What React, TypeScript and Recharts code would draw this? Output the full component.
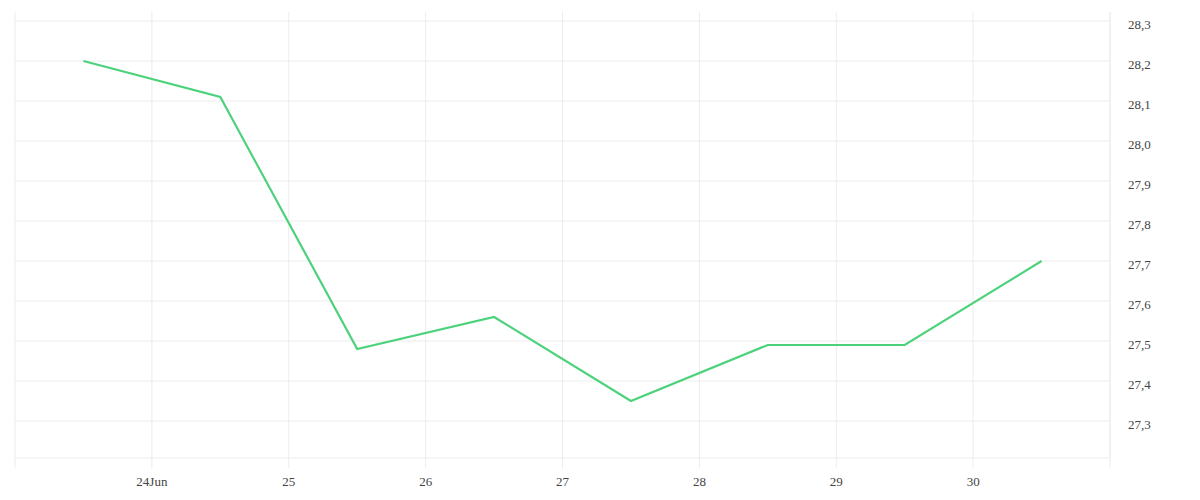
import { LineChart, Line, XAxis, YAxis, CartesianGrid, ReferenceLine } from 'recharts';

// points sit at midday of each day (23 Jun 12:00 ... 30 Jun 12:00)
const dayPositions = [23.5, 24.5, 25.5, 26.5, 27.5, 28.5, 29.5, 30.5];
const values = [28.2, 28.11, 27.48, 27.56, 27.35, 27.49, 27.49, 27.7];

const xTicks = [23, 24, 25, 26, 27, 28, 29, 30, 31];
const xTickLabels: Record<number, string> = {
  24: '24Jun',
  25: '25',
  26: '26',
  27: '27',
  28: '28',
  29: '29',
  30: '30',
};
const yTicks = [27.3, 27.4, 27.5, 27.6, 27.7, 27.8, 27.9, 28.0, 28.1, 28.2, 28.3];

const data = dayPositions.map((day, i) => ({ day, value: values[i] }));

const gridColor = '#ececec';
const textColor = '#444';

const App = () => {
  return (
    <LineChart
      width={1184}
      height={484}
      data={data}
      margin={{ top: 4, right: 0, left: 7, bottom: 0 }}
    >
      <CartesianGrid stroke={gridColor} horizontal={false} />
      {yTicks.map((t) => (
        <ReferenceLine key={t} y={t} stroke={gridColor} />
      ))}
      <XAxis
        dataKey="day"
        type="number"
        domain={[23, 31]}
        ticks={xTicks}
        height={34}
        tickSize={10}
        tickMargin={9}
        stroke={gridColor}
        tickFormatter={(v: number) => xTickLabels[v] ?? ''}
        tick={{ fill: textColor, fontSize: 13 }}
        interval={0}
      />
      <YAxis
        orientation="right"
        domain={[27.2075, 28.3225]}
        ticks={yTicks}
        width={82}
        tickLine={false}
        tickSize={0}
        tickMargin={18}
        stroke={gridColor}
        tickFormatter={(v: number) => v.toFixed(1).replace('.', ',')}
        tick={{ fill: textColor, fontSize: 13, textAnchor: 'start', dy: 3 }}
        interval={0}
        allowDataOverflow
      />
      <Line
        type="linear"
        dataKey="value"
        stroke="#4cd27b"
        strokeWidth={2.2}
        dot={false}
        isAnimationActive={false}
      />
    </LineChart>
  );
};

export default App;
